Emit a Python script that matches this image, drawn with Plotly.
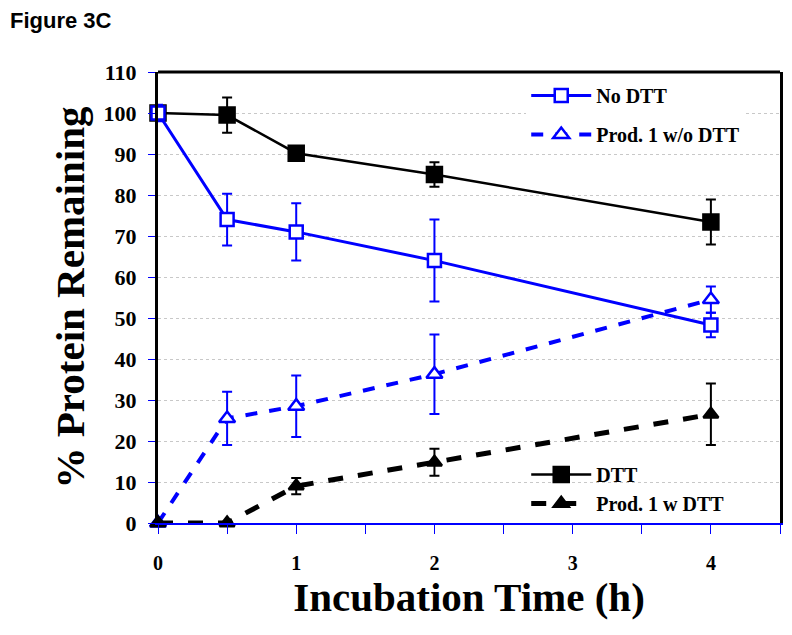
import plotly.graph_objects as go

time_h = [0, 0.5, 1, 2, 4]

no_dtt = [100, 74, 71, 64, 48.3]
no_dtt_err = [2, 6.3, 7, 10, 3]

prod1_wo_dtt = [0, 25.5, 28.5, 36.3, 54.5]
prod1_wo_dtt_err = [0, 6.5, 7.5, 9.7, 3.2]

dtt = [100, 99.5, 90.2, 85, 73.4]
dtt_err = [0, 4.3, 1, 3, 5.5]

prod1_w_dtt = [0, 0, 9, 14.8, 26.5]
prod1_w_dtt_err = [0, 0, 2, 3.3, 7.5]

x_ticks = [0, 1, 2, 3, 4]
y_ticks = list(range(0, 111, 10))

BLUE = "#0000FF"
BLACK = "#000000"
SERIF = "Liberation Serif, Times New Roman, serif"

fig = go.Figure()

def add(name, y, err, color, fill, dash, symbol, msize, lw, legend, group):
    fig.add_trace(go.Scatter(
        x=time_h, y=y, name=name, mode="lines+markers",
        line=dict(color=color, width=lw, dash=dash),
        marker=dict(symbol=symbol, size=msize, color=fill,
                    line=dict(color=color, width=2.5)),
        error_y=dict(type="data", array=err, visible=True, color=color, thickness=2, width=5),
        cliponaxis=False, legend=legend, legendgroup=group,
    ))

add("DTT", dtt, dtt_err, BLACK, BLACK, "solid", "square", 15, 2.5, "legend2", "g3")
add("No DTT", no_dtt, no_dtt_err, BLUE, "white", "solid", "square", 13, 3, "legend", "g1")
add("Prod. 1 w/o DTT", prod1_wo_dtt, prod1_wo_dtt_err, BLUE, "white", "dash", "triangle-up", 14, 4, "legend", "g2")
add("Prod. 1 w DTT", prod1_w_dtt, prod1_w_dtt_err, BLACK, BLACK, "dash", "triangle-up", 13, 5, "legend2", "g4")

fig.update_layout(
    width=792, height=635,
    margin=dict(l=150, r=20, t=64, b=120, autoexpand=False),
    paper_bgcolor="white", plot_bgcolor="white",
    font=dict(family=SERIF, color="black"),
    showlegend=True,
    legend=dict(x=0.592, y=0.991, xanchor="left", yanchor="top", bgcolor="white",
                font=dict(family=SERIF, size=20, color="black", weight="bold"),
                tracegroupgap=10, itemwidth=60, traceorder="grouped"),
    legend2=dict(x=0.592, y=0.151, xanchor="left", yanchor="top", bgcolor="rgba(0,0,0,0)",
                 font=dict(family=SERIF, size=20, color="black", weight="bold"),
                 tracegroupgap=0, itemwidth=60, traceorder="grouped"),
    xaxis=dict(
        range=[0, 4.5], tickvals=x_ticks, ticktext=[str(v) for v in x_ticks],
        ticks="outside", ticklen=9, tickcolor=BLUE, tickwidth=1,
        minor=dict(dtick=0.5, tick0=0, ticks="outside", ticklen=9, tickcolor=BLUE, tickwidth=1, showgrid=False),
        showline=True, linecolor=BLUE, linewidth=2, showgrid=False, zeroline=False,
        tickfont=dict(family=SERIF, size=20, color="black", weight="bold"),
        ticklabelstandoff=12, automargin=False,
        title=dict(text="Incubation Time (h)", font=dict(family=SERIF, size=41, color="black", weight="bold"), standoff=2),
    ),
    yaxis=dict(
        range=[0, 110], tickvals=y_ticks, ticktext=[str(v) for v in y_ticks],
        ticks="outside", ticklen=7, tickcolor=BLUE, tickwidth=1,
        showline=True, linecolor=BLACK, linewidth=3, mirror=True,
        showgrid=True, gridcolor="#c8c8c8", gridwidth=1, griddash="dot", zeroline=False,
        tickfont=dict(family=SERIF, size=22, color="black", weight="bold"),
        ticklabelstandoff=7, automargin=False,
        title=dict(text="% Protein Remaining", font=dict(family=SERIF, size=41, color="black", weight="bold"), standoff=7),
    ),
    shapes=[
        dict(type="line", xref="paper", yref="paper", x0=0, x1=1, y0=1, y1=1,
             line=dict(color=BLACK, width=3)),
    ],
    annotations=[
        dict(text="<b>Figure 3C</b>", xref="paper", yref="paper", x=-0.241, y=1.147,
             xanchor="left", yanchor="top", showarrow=False,
             font=dict(family="Liberation Sans, Arial, sans-serif", size=22, color="black")),
    ],
)

fig.write_html("out.html")
